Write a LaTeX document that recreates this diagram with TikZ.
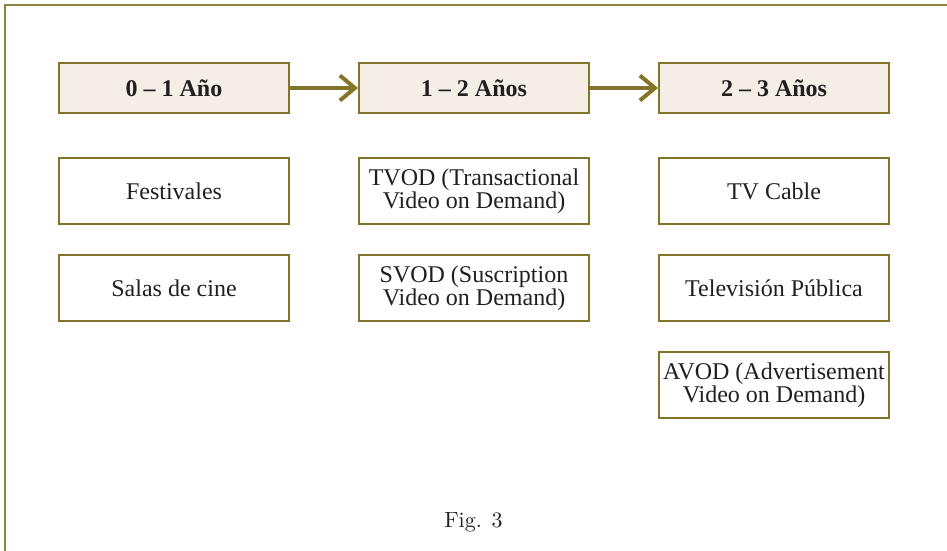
\documentclass[tikz,border=0pt]{standalone}
\usepackage{fontspec}
\setmainfont{Liberation Serif}
\newfontfamily\figfont{Latin Modern Roman}
\usepackage{xcolor}
\usepackage{tikz}
\usetikzlibrary{arrows.meta, positioning}
\definecolor{olive}{HTML}{84742A}
\definecolor{frameline}{HTML}{8E8240}
\definecolor{paper}{HTML}{F4EEE7}
\definecolor{ink}{HTML}{231F20}

\begin{document}
\begin{tikzpicture}[
    node distance=21.5pt and 34pt,
    headbox/.style={rectangle, draw=olive, fill=paper, line width=1pt, minimum width=115pt, minimum height=25pt, align=center, text=ink, font=\fontsize{12}{12}\selectfont\bfseries},
    box/.style={rectangle, draw=olive, fill=white, line width=1pt, minimum width=115pt, minimum height=33pt, inner sep=1pt, align=center, text=ink, font=\fontsize{12}{11.5}\selectfont},
    arr/.style={-{Straight Barb[length=7.5pt, width=12.5pt]}, line width=2pt, color=olive}
]
\useasboundingbox (0,0) rectangle (473.5pt,-275.5pt);

% outer frame (only top and left edges show)
\draw[frameline, line width=1pt] (2.5pt,-275.5pt) -- (2.5pt,-2.5pt) -- (473.5pt,-2.5pt);

\node[headbox, anchor=north west] (year1) at (29pt,-31pt) {0 -- 1 Año};
\node[headbox, right=of year1] (year2) {1 -- 2 Años};
\node[headbox, right=of year2] (year3) {2 -- 3 Años};

\node[box, below=of year1] (fest) {Festivales};
\node[box, below=14.5pt of fest] (salas) {Salas de cine};

\node[box, below=of year2] (tvod) {TVOD (Transactional\\Video on Demand)};
\node[box, below=14.5pt of tvod] (svod) {SVOD (Suscription\\Video on Demand)};

\node[box, below=of year3] (cable) {TV Cable};
\node[box, below=14.5pt of cable] (publica) {Televisión Pública};
\node[box, below=14.5pt of publica] (avod) {AVOD (Advertisement\\Video on Demand)};

\node[text=ink, font=\figfont\fontsize{11}{11}\selectfont] (fig) at (236.75pt,-261pt) {Fig. 3};

\draw[arr] (year1) -- (year2);
\draw[arr] (year2) -- (year3);

\end{tikzpicture}
\end{document}
